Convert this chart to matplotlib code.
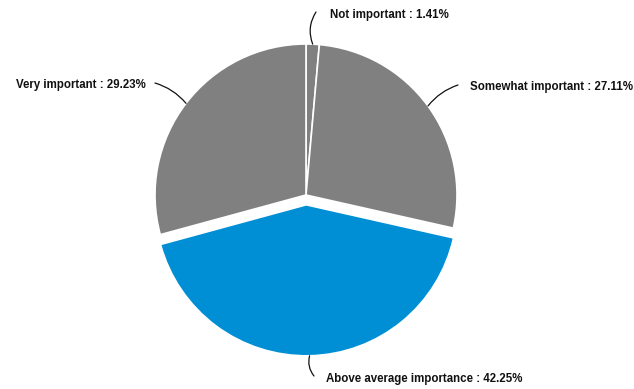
import numpy as np
import matplotlib
matplotlib.use("Agg")
import matplotlib.pyplot as plt
from matplotlib import font_manager

labels = ["Not important", "Somewhat important", "Above average importance", "Very important"]
values = [1.41, 27.11, 42.25, 29.23]
colors = ["#808080", "#808080", "#008fd5", "#808080"]
explode = [0, 0, 0.065, 0]

W, H = 634, 389
cx, cy, R = 306, 195, 151

label_font = font_manager.FontProperties(family="Liberation Sans", weight="bold",
                                         stretch="normal", size=8.3)

fig = plt.figure(figsize=(W / 100, H / 100), dpi=100)
ax = fig.add_axes([0, 0, 1, 1])

wedges, _ = ax.pie(values, colors=colors, explode=explode, startangle=90,
                   counterclock=False,
                   wedgeprops=dict(edgecolor="white", linewidth=1.2))

ax.set_xlim(-cx / R, (W - cx) / R)
ax.set_ylim(-(H - cy) / R, cy / R)
ax.set_aspect("auto")
ax.axis("off")


def px(x, y):
    return ((x - cx) / R, (cy - y) / R)


# text anchor (pixels), alignment, connector end (pixels), connector curvature
label_layout = [
    ((330, 15), "left", (316, 12), -0.25),
    ((470, 87), "left", (458, 85), -0.15),
    ((326, 379), "left", (314, 376), 0.25),
    ((146, 85), "right", (155, 83), 0.15),
]

for w, lab, val, (pos, ha, end, rad) in zip(wedges, labels, values, label_layout):
    ang = np.deg2rad((w.theta1 + w.theta2) / 2)
    r = w.r
    ccx, ccy = w.center
    ex, ey = ccx + r * np.cos(ang), ccy + r * np.sin(ang)
    tx, ty = px(*pos)
    ax.text(tx, ty, f"{lab} : {val:.2f}%", ha=ha, va="center",
            fontproperties=label_font, color="#111111")
    ax.annotate("", xy=px(*end), xytext=(ex, ey),
                arrowprops=dict(arrowstyle="-", color="#111111", lw=0.9,
                                shrinkA=0, shrinkB=0,
                                connectionstyle=f"arc3,rad={rad}"))

fig.savefig("out.png", dpi=100)
